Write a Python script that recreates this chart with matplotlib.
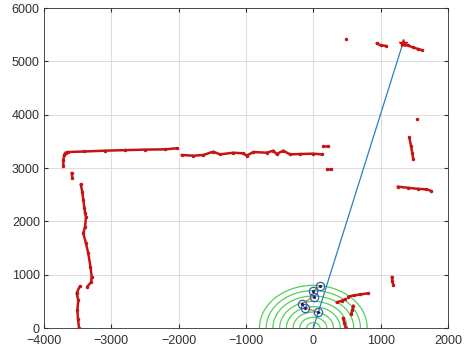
import matplotlib
matplotlib.use("Agg")
import matplotlib.pyplot as plt
import numpy as np

plt.rcParams["font.family"] = ["Liberation Sans", "DejaVu Sans"]

# laser scan segments (mm)
scan_segments = [
    ([-3713, -3712, -3700, -3680, -3640, -3400, -3100, -2800, -2500, -2200, -2030],
     [3040, 3150, 3250, 3290, 3300, 3310, 3325, 3335, 3345, 3350, 3370]),
    ([-1956, -1782, -1634, -1485, -1386, -1188, -1040, -990, -891, -693, -594,
      -545, -446, -347, -198, 0, 124],
     [3244, 3231, 3244, 3306, 3256, 3287, 3275, 3231, 3300, 3287, 3325,
      3262, 3325, 3256, 3262, 3269, 3256]),
    ([150, 220], [3415, 3415]),
    ([210, 260], [2985, 2985]),
    ([-3590, -3580], [2910, 2820]),
    ([-3455, -3430, -3416, -3400, -3390, -3376, -3390, -3416, -3380, -3342, -3310,
      -3292, -3300, -3357],
     [2694, 2550, 2400, 2250, 2150, 2087, 1900, 1775, 1600, 1400, 1150,
      962, 860, 775]),
    ([-3470, -3515, -3490, -3505, -3495, -3480],
     [780, 650, 525, 337, 170, 0]),
    ([490], [5410]),
    ([940, 1000, 1079], [5338, 5300, 5290]),
    ([1330, 1400, 1485, 1560, 1609], [5338, 5300, 5260, 5230, 5212]),
    ([1544], [3913]),
    ([1425, 1450, 1470, 1484], [3575, 3420, 3280, 3163]),
    ([1252, 1400, 1550, 1680, 1742], [2650, 2630, 2610, 2600, 2575]),
    ([1165, 1175, 1187], [960, 880, 806]),
    ([346, 420, 470], [481, 510, 538]),
    ([520, 600, 700, 810], [590, 610, 630, 650]),
    ([590, 580, 560], [420, 340, 260]),
    ([440, 460, 480], [190, 100, 0]),
]

# tracked points (blue circles) and path between them
track_x = [75, -125, -175, 5, 0, 100]
track_y = [300, 370, 455, 590, 690, 795]

# target ray
target_x = [0, 1330]
target_y = [0, 5340]

arc_radii = [100, 200, 300, 400, 500, 600, 700, 800]

fig = plt.figure(figsize=(4.67, 3.53), dpi=100)
ax = fig.add_axes([0.0942, 0.0708, 0.8651, 0.9065])

theta = np.linspace(0, np.pi, 200)
for r in arc_radii:
    ax.plot(r * np.cos(theta), r * np.sin(theta), color="#55d055", lw=0.9, zorder=2)

for sx, sy in scan_segments:
    ax.plot(sx, sy, color="#c41414", lw=1.8, marker=".", ms=3,
            solid_capstyle="round", zorder=3)

ax.plot(target_x, target_y, color="#2c7fb8", lw=0.9, zorder=4)
ax.plot(target_x[1], target_y[1], marker="*", color="#d01010", ms=6, zorder=5)

ax.plot(track_x, track_y, color="#d9843a", lw=1.0, zorder=4)
ax.plot(track_x, track_y, linestyle="none", marker="o", mfc="none",
        mec="#3060c0", ms=6, mew=0.9, zorder=5)
ax.plot(track_x, track_y, linestyle="none", marker=".", color="#202050",
        ms=2.5, zorder=6)

ax.set_xlim(-4000, 2000)
ax.set_ylim(0, 6000)
ax.set_xticks(np.arange(-4000, 2001, 1000))
ax.set_yticks(np.arange(0, 6001, 1000))
ax.grid(True, color="#dcdcdc", lw=0.7, zorder=0)
ax.set_axisbelow(True)
ax.tick_params(direction="in", top=True, right=True, length=3,
               labelsize=9, colors="#303030")
ax.tick_params(axis="x", pad=5)
ax.tick_params(axis="y", pad=3)
for s in ax.spines.values():
    s.set_color("#303030")
    s.set_linewidth(0.6)

fig.savefig("out.png", dpi=100)
